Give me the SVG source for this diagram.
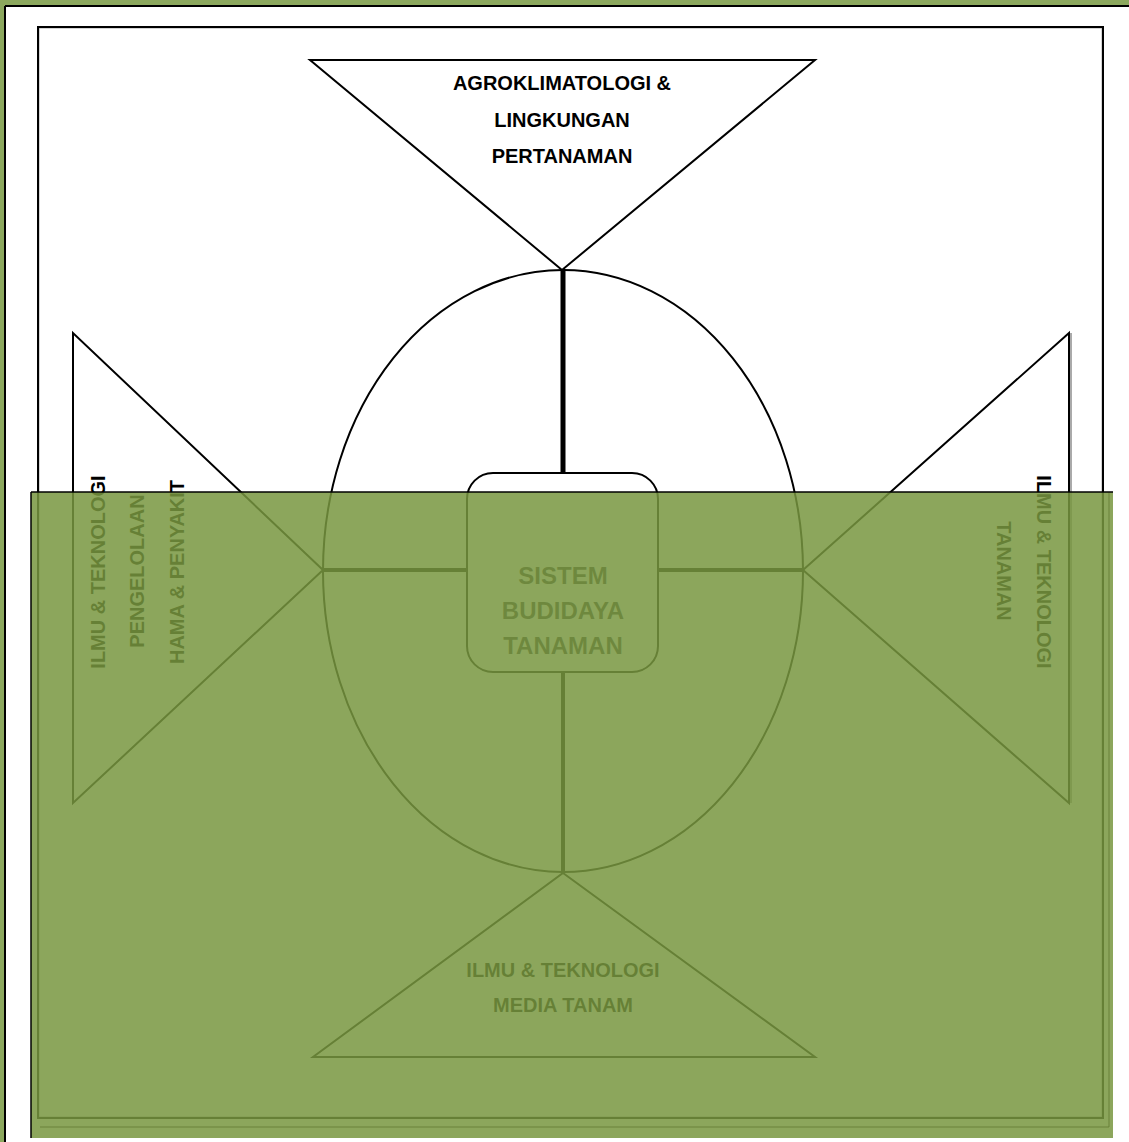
<svg xmlns="http://www.w3.org/2000/svg" width="1129" height="1142" viewBox="0 0 1129 1142">
<style>
.shape{fill:none;stroke:#000;stroke-width:2}
.lbl{font-family:"Liberation Sans",Arial,sans-serif;font-weight:bold;font-size:20px;fill:#000;text-anchor:middle}
.ctr{font-family:"Liberation Sans",Arial,sans-serif;font-weight:bold;font-size:24px;fill:#3a3a3a;text-anchor:middle}
.conn{stroke:#000;fill:none}
</style>
<rect x="0" y="0" width="1129" height="1142" fill="#8ca85e"/>
<rect x="5" y="6" width="1124" height="1136" fill="#fff"/>
<line x1="5" y1="6" x2="1129" y2="6" stroke="#000" stroke-width="2"/>
<line x1="5" y1="6" x2="5" y2="1142" stroke="#000" stroke-width="2"/>
<g id="frame">
<rect x="39" y="28" width="1063" height="1089" fill="none" stroke="#aaa" stroke-width="1"/>
<rect x="38" y="27" width="1065" height="1091" fill="none" stroke="#000" stroke-width="2"/>
</g>
<g id="connectors">
<line class="conn" x1="563" y1="270" x2="563" y2="473" stroke-width="5"/>
<line class="conn" x1="323" y1="570" x2="467" y2="570" stroke-width="4"/>
<line class="conn" x1="658" y1="570" x2="803" y2="570" stroke-width="4"/>
<line class="conn" x1="563" y1="672" x2="563" y2="873" stroke-width="4"/>
</g>
<g id="ellipse">
<ellipse cx="563" cy="571" rx="240" ry="301" class="shape" stroke-width="1.5"/>
</g>
<g id="node-top">
<polygon points="310,60 815,60 562,270" class="shape"/>
<text class="lbl" x="562" y="90">AGROKLIMATOLOGI &amp;</text>
<text class="lbl" x="562" y="127">LINGKUNGAN</text>
<text class="lbl" x="562" y="163">PERTANAMAN</text>
</g>
<g id="node-left">
<polygon points="73,333 73,803 323,570" class="shape"/>
<text class="lbl" transform="translate(105,572) rotate(-90)">ILMU &amp; TEKNOLOGI</text>
<text class="lbl" transform="translate(144,571) rotate(-90)">PENGELOLAAN</text>
<text class="lbl" transform="translate(184,572) rotate(-90)">HAMA &amp; PENYAKIT</text>
</g>
<g id="node-right">
<line x1="1071" y1="333" x2="1071" y2="803" stroke="#aaa" stroke-width="2"/>
<polygon points="1069,333 1069,803 803,570" class="shape"/>
<text class="lbl" transform="translate(1037,572) rotate(90)">ILMU &amp; TEKNOLOGI</text>
<text class="lbl" transform="translate(997,571) rotate(90)">TANAMAN</text>
</g>
<g id="node-bottom">
<polygon points="563,873 815,1057 313,1057" class="shape"/>
<text class="lbl" x="563" y="977">ILMU &amp; TEKNOLOGI</text>
<text class="lbl" x="563" y="1012">MEDIA TANAM</text>
</g>
<g id="node-center">
<rect x="467" y="473" width="191" height="199" rx="26" ry="26" fill="#fff" stroke="#000" stroke-width="2"/>
<text class="ctr" x="563" y="584">SISTEM</text>
<text class="ctr" x="563" y="619">BUDIDAYA</text>
<text class="ctr" x="563" y="654">TANAMAN</text>
</g>
<g id="overlay">
<rect x="31" y="492" width="1082" height="646" fill="#789740" fill-opacity="0.85"/>
<line x1="40" y1="1127" x2="1109" y2="1127" stroke="#5f7a32" stroke-opacity="0.5" stroke-width="1.5"/>
<line x1="1109" y1="492" x2="1109" y2="1127" stroke="#5f7a32" stroke-opacity="0.5" stroke-width="1.5"/>
<line x1="31" y1="492" x2="1113" y2="492" stroke="#000" stroke-width="1.5"/>
<line x1="31" y1="492" x2="31" y2="1138" stroke="#000" stroke-width="1.5"/>
</g>
</svg>
